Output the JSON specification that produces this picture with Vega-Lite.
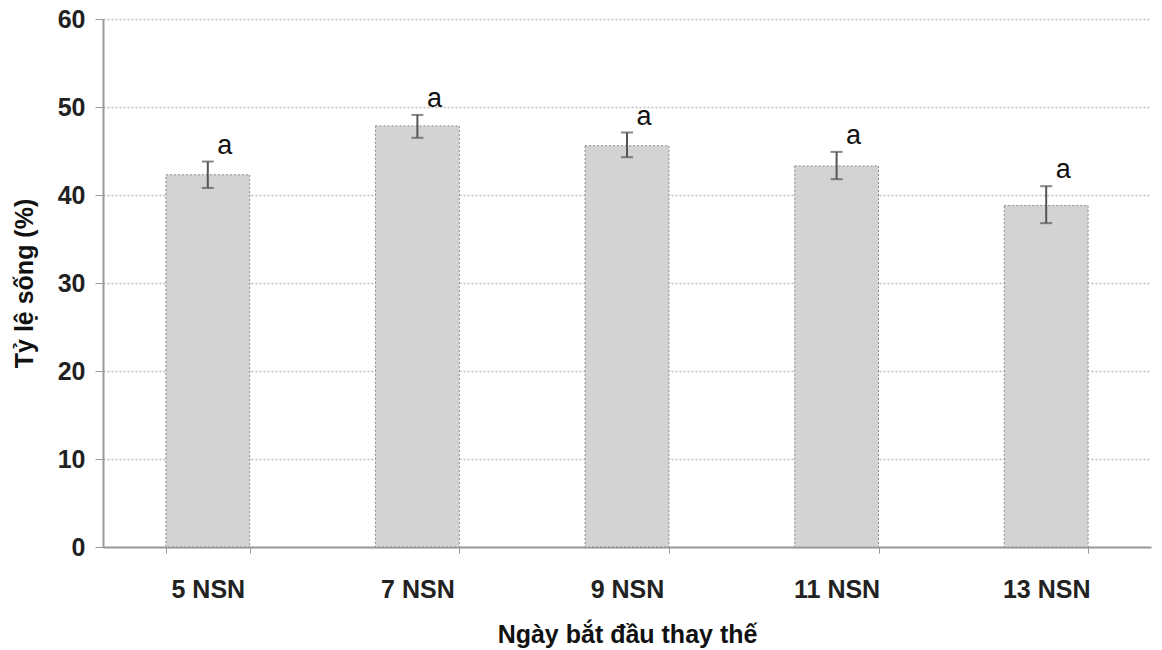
{
  "$schema": "https://vega.github.io/schema/vega-lite/v6.json",
  "autosize": {"type": "none"},
  "padding": {"left": 103, "top": 19, "right": 9, "bottom": 103},
  "width": 1048,
  "height": 528,
  "background": "white",
  "config": {
    "view": {"stroke": null},
    "font": "Liberation Sans",
    "axis": {"labelFont": "Liberation Sans", "titleFont": "Liberation Sans"}
  },
  "data": {
    "values": [
      {"group": "5 NSN", "mean": 42.3, "lower": 40.8, "upper": 43.8, "sig": "a"},
      {"group": "7 NSN", "mean": 47.85, "lower": 46.5, "upper": 49.1, "sig": "a"},
      {"group": "9 NSN", "mean": 45.6, "lower": 44.3, "upper": 47.1, "sig": "a"},
      {"group": "11 NSN", "mean": 43.3, "lower": 41.8, "upper": 44.9, "sig": "a"},
      {"group": "13 NSN", "mean": 38.8, "lower": 36.8, "upper": 41.0, "sig": "a"}
    ]
  },
  "encoding": {
    "x": {
      "field": "group",
      "type": "nominal",
      "sort": null,
      "scale": {"paddingInner": 0.6, "paddingOuter": 0.3},
      "axis": {
        "title": "Ngày bắt đầu thay thế",
        "titleFontSize": 25,
        "titleFontWeight": "bold",
        "titleColor": "#111",
        "titlePadding": 20,
        "labelFontSize": 25,
        "labelFontWeight": "bold",
        "labelColor": "#222",
        "labelAngle": 0,
        "labelPadding": 24,
        "tickBand": "extent",
        "tickSize": 6,
        "tickColor": "#999",
        "domainColor": "#999",
        "domainWidth": 2
      }
    }
  },
  "layer": [
    {
      "mark": {"type": "bar", "fill": "#d3d3d3", "stroke": "#8a8a8a", "strokeDash": [2, 2], "strokeWidth": 1},
      "encoding": {
        "y": {
          "field": "mean",
          "type": "quantitative",
          "scale": {"domain": [0, 60]},
          "axis": {
            "title": "Tỷ lệ sống (%)",
            "titleFontSize": 25,
            "titleFontWeight": "bold",
            "titleColor": "#111",
            "titlePadding": 20,
            "labelFontSize": 25,
            "labelFontWeight": "bold",
            "labelColor": "#222",
            "labelPadding": 10,
            "labelOverlap": false,
            "values": [0, 10, 20, 30, 40, 50, 60],
            "tickSize": 8,
            "tickColor": "#999",
            "domainColor": "#999",
            "domainWidth": 2,
            "grid": true,
            "gridColor": "#bdbdbd",
            "gridDash": [2, 2],
            "gridWidth": 1.5
          }
        }
      }
    },
    {
      "mark": {"type": "rule", "color": "#555", "strokeWidth": 2},
      "encoding": {
        "y": {"field": "lower", "type": "quantitative"},
        "y2": {"field": "upper"}
      }
    },
    {
      "mark": {"type": "tick", "color": "#555", "thickness": 2, "size": 12},
      "encoding": {"y": {"field": "upper", "type": "quantitative"}}
    },
    {
      "mark": {"type": "tick", "color": "#555", "thickness": 2, "size": 12},
      "encoding": {"y": {"field": "lower", "type": "quantitative"}}
    },
    {
      "mark": {"type": "text", "fontSize": 27, "color": "#111", "dx": 17, "dy": -2, "baseline": "bottom"},
      "encoding": {
        "y": {"field": "upper", "type": "quantitative"},
        "text": {"field": "sig"}
      }
    }
  ]
}
